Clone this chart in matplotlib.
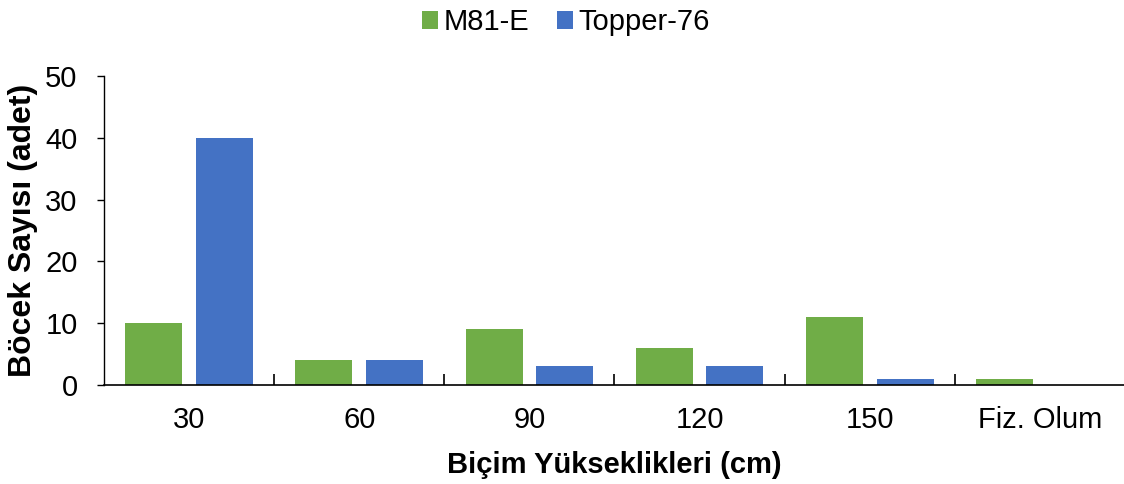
import matplotlib
matplotlib.use("Agg")
import matplotlib.pyplot as plt
import numpy as np

categories = ["30", "60", "90", "120", "150", "Fiz. Olum"]
m81e = [10, 4, 9, 6, 11, 1]
topper76 = [40, 4, 3, 3, 1, 0]
series_names = ["M81-E", "Topper-76"]
colors = ["#70AD47", "#4472C4"]

plt.rcParams['font.family'] = ['Liberation Sans', 'DejaVu Sans']

fig = plt.figure(figsize=(11.24, 4.84), dpi=100)
ax = fig.add_axes([0.0925, 0.2045, 0.9084, 0.6385])

x = np.arange(len(categories))
w = 0.335
off = 0.208
ax.bar(x - off, m81e, width=w, color=colors[0], label=series_names[0])
ax.bar(x + off, topper76, width=w, color=colors[1], label=series_names[1])

ax.set_xlim(-0.5, len(categories) - 0.5)
ax.set_ylim(0, 50)
ax.set_yticks([0, 10, 20, 30, 40, 50])
ax.set_xticks(x)
ax.set_xticklabels(categories)
ax.set_xticks(np.arange(0.5, len(categories) - 0.5, 1), minor=True)
ax.tick_params(axis='x', which='major', length=0, labelsize=21, pad=15)
ax.tick_params(axis='x', which='minor', direction='in', length=8, width=1.2, color='black')
ax.tick_params(axis='y', which='major', direction='out', length=5, width=1, labelsize=21, pad=14)

for s in ['top', 'right']:
    ax.spines[s].set_visible(False)
ax.spines['left'].set_linewidth(1)
ax.spines['bottom'].set_linewidth(1.2)

ax.set_xlabel("Biçim Yükseklikleri (cm)", fontsize=21, fontweight='bold', labelpad=12)
ax.set_ylabel("Böcek Sayısı (adet)", fontsize=23, fontweight='bold', labelpad=5)

fig.legend(loc='upper center', bbox_to_anchor=(0.5035, 1.037), ncol=2, frameon=False,
           fontsize=21, handlelength=0.55, handleheight=0.55, handletextpad=0.2,
           columnspacing=0.93)

fig.savefig("out.png", dpi=100)
